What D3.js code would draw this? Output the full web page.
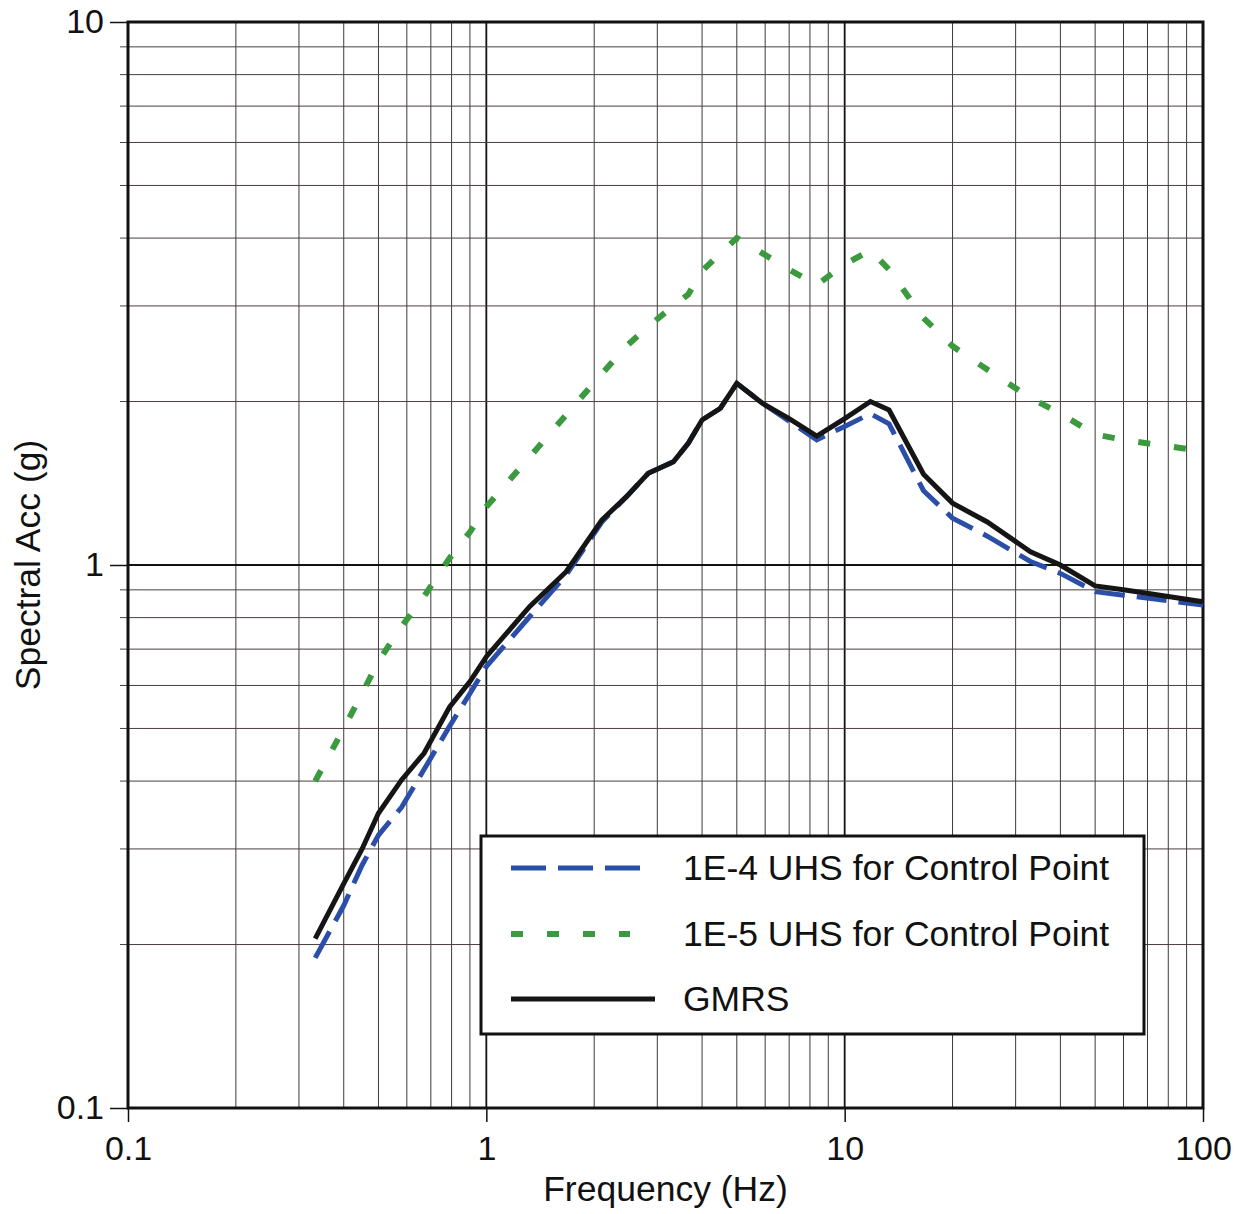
<!DOCTYPE html>
<html>
<head>
<meta charset="utf-8">
<script src="https://cdn.jsdelivr.net/npm/d3@7"></script>
<style>
  html, body { margin: 0; padding: 0; background: #fff; }
  svg { display: block; font-family: "Liberation Sans", Arial, Helvetica, sans-serif; }
</style>
</head>
<body>
<svg id="chart" width="1243" height="1214"></svg>
<script>
// Spectral frequencies (Hz) shared by all three spectra
const freq = [0.333, 0.4, 0.45, 0.5, 0.58, 0.67, 0.79, 0.9, 1.0, 1.32, 1.67, 2.1, 2.46, 2.83,
              3.33, 3.66, 4.0, 4.5, 5.0, 5.9, 7.0, 8.36, 10, 11.8, 13.3, 16.6, 20, 25, 33, 40, 50, 60, 100];

// 1E-4 uniform hazard spectrum at the control point (g)
const uhs1e4 = [0.189, 0.236, 0.28, 0.318, 0.358, 0.42, 0.505, 0.58, 0.65, 0.803, 0.958, 1.2, 1.336, 1.475,
                1.55, 1.675, 1.85, 1.944, 2.16, 1.985, 1.84, 1.70, 1.80, 1.90, 1.82, 1.37, 1.22, 1.13, 1.015, 0.965, 0.893, 0.88, 0.844];

// 1E-5 uniform hazard spectrum at the control point (g)
const uhs1e5 = [0.40, 0.50, 0.58, 0.665, 0.77, 0.875, 1.03, 1.15, 1.28, 1.58, 1.89, 2.25, 2.53, 2.75,
                3.0, 3.15, 3.48, 3.75, 4.0, 3.75, 3.5, 3.28, 3.58, 3.8, 3.5, 2.85, 2.53, 2.29, 2.03, 1.9, 1.74, 1.70, 1.62];

// Ground motion response spectrum (g)
const gmrs = [0.205, 0.259, 0.30, 0.349, 0.402, 0.45, 0.548, 0.61, 0.678, 0.838, 0.972, 1.21, 1.336, 1.475,
              1.55, 1.675, 1.85, 1.944, 2.16, 1.985, 1.86, 1.728, 1.86, 2.0, 1.93, 1.47, 1.30, 1.20, 1.058, 1.0, 0.915, 0.90, 0.856];

const xTickLabels = ["0.1", "1", "10", "100"];
const yTickLabels = ["0.1", "1", "10"];
const legendLabels = ["1E-4 UHS for Control Point", "1E-5 UHS for Control Point", "GMRS"];

const W = 1243, H = 1214;
const margin = { left: 128, right: 40, top: 22, bottom: 106 };
const svg = d3.select("#chart");

const x = d3.scaleLog().domain([0.1, 100]).range([margin.left, W - margin.right]);
const y = d3.scaleLog().domain([0.1, 10]).range([H - margin.bottom, margin.top]);

// grid values: 1..9 within each decade
const gridVals = (lo, hi) => {
  const out = [];
  for (let d = lo; d < hi * 0.999; d *= 10) for (let k = 1; k <= 9; k++) out.push(+(d * k).toPrecision(3));
  out.push(hi);
  return out;
};
const isMajor = v => Math.abs(Math.log10(v) - Math.round(Math.log10(v))) < 1e-6;

const xGrid = gridVals(0.1, 100);
const yGrid = gridVals(0.1, 10);

const grid = svg.append("g");
grid.selectAll("line.vx").data(xGrid).join("line")
  .attr("x1", d => x(d)).attr("x2", d => x(d))
  .attr("y1", y(10)).attr("y2", y(0.1))
  .attr("stroke", d => isMajor(d) ? "#111" : "#3a3a3a")
  .attr("stroke-width", d => isMajor(d) ? 1.8 : 1);
grid.selectAll("line.hy").data(yGrid).join("line")
  .attr("x1", d => isMajor(d) ? x(0.1) : x(0.1) - 8).attr("x2", x(100))
  .attr("y1", d => y(d)).attr("y2", d => y(d))
  .attr("stroke", d => isMajor(d) ? "#111" : "#4a3f3f")
  .attr("stroke-width", d => isMajor(d) ? 1.8 : 1);

const labelFont = "'Liberation Sans', Arial, Helvetica, sans-serif";

// Axes with ticks and labels
const xAxis = d3.axisBottom(x)
  .tickValues([0.1, 1, 10, 100])
  .tickFormat((d, i) => xTickLabels[i])
  .tickSize(14).tickPadding(14);
const gx = svg.append("g").attr("transform", `translate(0,${y(0.1)})`).call(xAxis);
gx.select(".domain").remove();
gx.selectAll(".tick line").attr("stroke", "#111").attr("stroke-width", 1.5);
gx.selectAll(".tick text").attr("font-size", 34).attr("fill", "#111").attr("font-family", labelFont);

const yAxis = d3.axisLeft(y)
  .tickValues([0.1, 1, 10])
  .tickFormat((d, i) => yTickLabels[i])
  .tickSize(18).tickPadding(6);
const gy = svg.append("g").attr("transform", `translate(${x(0.1)},0)`).call(yAxis);
gy.select(".domain").remove();
gy.selectAll(".tick line").attr("stroke", "#111").attr("stroke-width", 1.5);
gy.selectAll(".tick text").attr("font-size", 34).attr("fill", "#111").attr("font-family", labelFont);

// Plot frame
svg.append("rect")
  .attr("x", x(0.1)).attr("y", y(10))
  .attr("width", x(100) - x(0.1)).attr("height", y(0.1) - y(10))
  .attr("fill", "none").attr("stroke", "#111").attr("stroke-width", 3);

// Axis titles
svg.append("text")
  .attr("x", (x(0.1) + x(100)) / 2).attr("y", 1201)
  .attr("text-anchor", "middle").attr("font-size", 35.5).attr("fill", "#111")
  .text("Frequency (Hz)");
svg.append("text")
  .attr("transform", `translate(40,${y(1)}) rotate(-90)`)
  .attr("text-anchor", "middle").attr("font-size", 35.5).attr("fill", "#111")
  .text("Spectral Acc (g)");

// Spectra
const series = [
  { values: uhs1e4, color: "#2b4fa8", width: 5, dash: "30 12" },
  { values: uhs1e5, color: "#3b9a3e", width: 6, dash: "12 24" },
  { values: gmrs,   color: "#151515", width: 5, dash: null }
];
const line = d3.line().x(d => x(d[0])).y(d => y(d[1]));
const plot = svg.append("g");
series.forEach(s => {
  plot.append("path")
    .datum(freq.map((f, i) => [f, s.values[i]]))
    .attr("d", line)
    .attr("fill", "none")
    .attr("stroke", s.color)
    .attr("stroke-width", s.width)
    .attr("stroke-linejoin", "miter")
    .attr("stroke-dasharray", s.dash);
});

// Legend
const lg = svg.append("g");
lg.append("rect").attr("x", 481).attr("y", 836).attr("width", 663).attr("height", 198)
  .attr("fill", "#fff").attr("stroke", "#111").attr("stroke-width", 3);
const rowY = [868, 934, 999];
const sampleEnd = [641, 630, 655];
const sampleDash = ["35 12", "12 24", null];
series.forEach((s, i) => {
  lg.append("line")
    .attr("x1", 511).attr("x2", sampleEnd[i])
    .attr("y1", rowY[i]).attr("y2", rowY[i])
    .attr("stroke", s.color).attr("stroke-width", s.width)
    .attr("stroke-dasharray", sampleDash[i]);
  lg.append("text")
    .attr("x", 683).attr("y", rowY[i]).attr("dy", "0.35em")
    .attr("font-size", 35.5).attr("fill", "#111")
    .text(legendLabels[i]);
});
</script>
</body>
</html>
